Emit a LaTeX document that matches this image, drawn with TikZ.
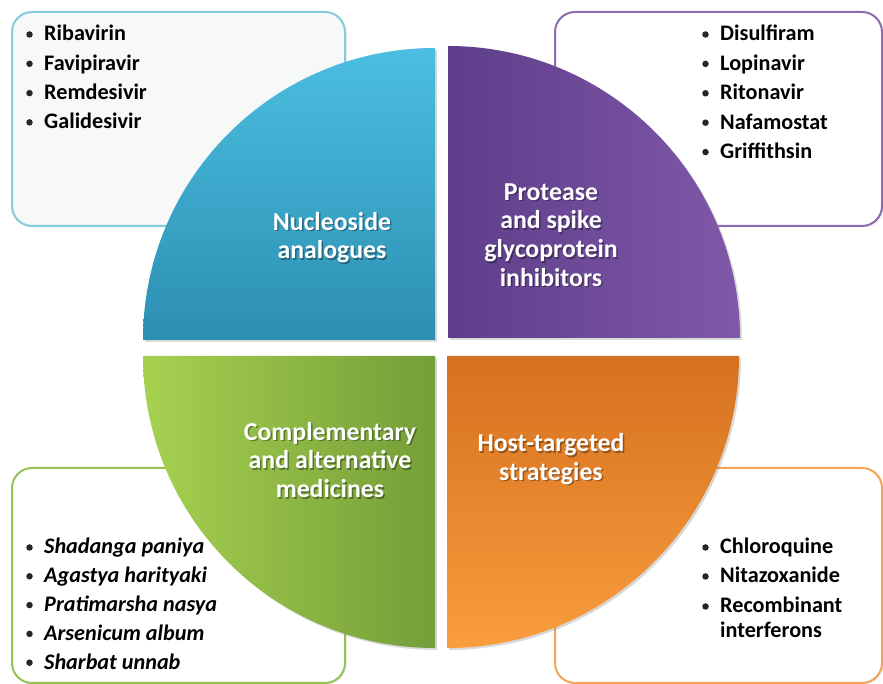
\documentclass[tikz,border=0pt]{standalone}
\usepackage{fontspec}
\setmainfont{Carlito}
\usetikzlibrary{shadows}
\definecolor{bluetop}{RGB}{75,190,225}
\definecolor{bluebot}{RGB}{44,143,178}
\definecolor{purpL}{RGB}{94,62,138}
\definecolor{purpR}{RGB}{128,88,170}
\definecolor{greenL}{RGB}{166,209,80}
\definecolor{greenR}{RGB}{116,158,56}
\definecolor{orTop}{RGB}{214,112,30}
\definecolor{orBot}{RGB}{249,157,62}
\definecolor{tlBorder}{RGB}{132,204,219}
\definecolor{trBorder}{RGB}{140,107,177}
\definecolor{blBorder}{RGB}{148,195,84}
\definecolor{brBorder}{RGB}{245,164,87}
\definecolor{tlFill}{RGB}{247,248,248}
\newcommand\listitem[4]{%
  \node[bul] (#1b) at (#2-14.5,#3+6.5) {};
  \node[itm] (#1) at (#2,#3) {#4};}
\begin{document}
\begin{tikzpicture}[x=1pt,y=1pt,
  listbox/.style={rounded corners=20pt, line width=2pt, fill=white,
    drop shadow={opacity=0.15, shadow xshift=1.5pt, shadow yshift=-1.5pt}},
  quad/.style={drop shadow={opacity=0.3, shadow xshift=2pt, shadow yshift=-2pt}},
  itm/.style={anchor=base west, inner sep=0pt, font=\fontsize{22.2}{25}\selectfont\bfseries},
  bul/.style={circle, fill=black!85, inner sep=0pt, minimum size=6.5pt},
  lbl/.style={align=center, text=white, inner sep=0pt, font=\fontsize{25.8}{28.7}\selectfont\bfseries},
  lblshadow/.style={lbl, text=black, opacity=0.35}]
\useasboundingbox (0,0) rectangle (883,684);
% list boxes
\path[listbox, draw=tlBorder, fill=tlFill] (12,458) rectangle (345,672);
\path[listbox, draw=trBorder] (555,458) rectangle (882,672);
\path[listbox, draw=blBorder] (12,1) rectangle (345,216);
\path[listbox, draw=brBorder] (555,1) rectangle (882,216);
% quadrants
\path[quad, top color=bluetop, bottom color=bluebot] (435,344) -- (143,344) arc (180:90:292) -- cycle;
\path[quad, left color=purpL, right color=purpR] (448,346) -- (448,638) arc (90:0:292) -- cycle;
\path[quad, left color=greenL, right color=greenR] (435,328) -- (143,328) arc (180:270:292) -- cycle;
\path[quad, top color=orTop, bottom color=orBot] (447,328) -- (739,328) arc (0:-90:292) -- cycle;
% quadrant labels
\node[lblshadow] (nucs) at (333.5,445) {Nucleoside\\analogues};
\node[lbl] (nuc) at (332,446.5) {Nucleoside\\analogues};
\node[lblshadow] (pros) at (552.5,447.5) {Protease\\and spike\\glycoprotein\\inhibitors};
\node[lbl] (pro) at (551,449) {Protease\\and spike\\glycoprotein\\inhibitors};
\node[lblshadow] (coms) at (331.5,222.5) {Complementary\\and alternative\\medicines};
\node[lbl] (com) at (330,224) {Complementary\\and alternative\\medicines};
\node[lblshadow] (hosts) at (552.5,223.5) {Host-targeted\\strategies};
\node[lbl] (host) at (551,225) {Host-targeted\\strategies};
% top-left list
\listitem{tla}{44}{643}{Ribavirin}
\listitem{tlb}{44}{613.7}{Favipiravir}
\listitem{tlc}{44}{584.4}{Remdesivir}
\listitem{tld}{44}{555.1}{Galidesivir}
% top-right list
\listitem{tra}{720}{643}{Disulfiram}
\listitem{trb}{720}{613.6}{Lopinavir}
\listitem{trc}{720}{584.2}{Ritonavir}
\listitem{trd}{720}{554.8}{Nafamostat}
\listitem{tre}{720}{525.4}{Griffithsin}
% bottom-left list
\listitem{bla}{44}{130}{\itshape Shadanga paniya}
\listitem{blb}{44}{101.2}{\itshape Agastya harityaki}
\listitem{blc}{44}{72.4}{\itshape Pratimarsha nasya}
\listitem{bld}{44}{43.6}{\itshape Arsenicum album}
\listitem{ble}{44}{14.8}{\itshape Sharbat unnab}
% bottom-right list
\listitem{bra}{720}{130}{Chloroquine}
\listitem{brb}{720}{101}{Nitazoxanide}
\listitem{brc}{720}{71}{Recombinant}
\node[itm] (brd) at (720,46) {interferons};
\end{tikzpicture}
\end{document}
